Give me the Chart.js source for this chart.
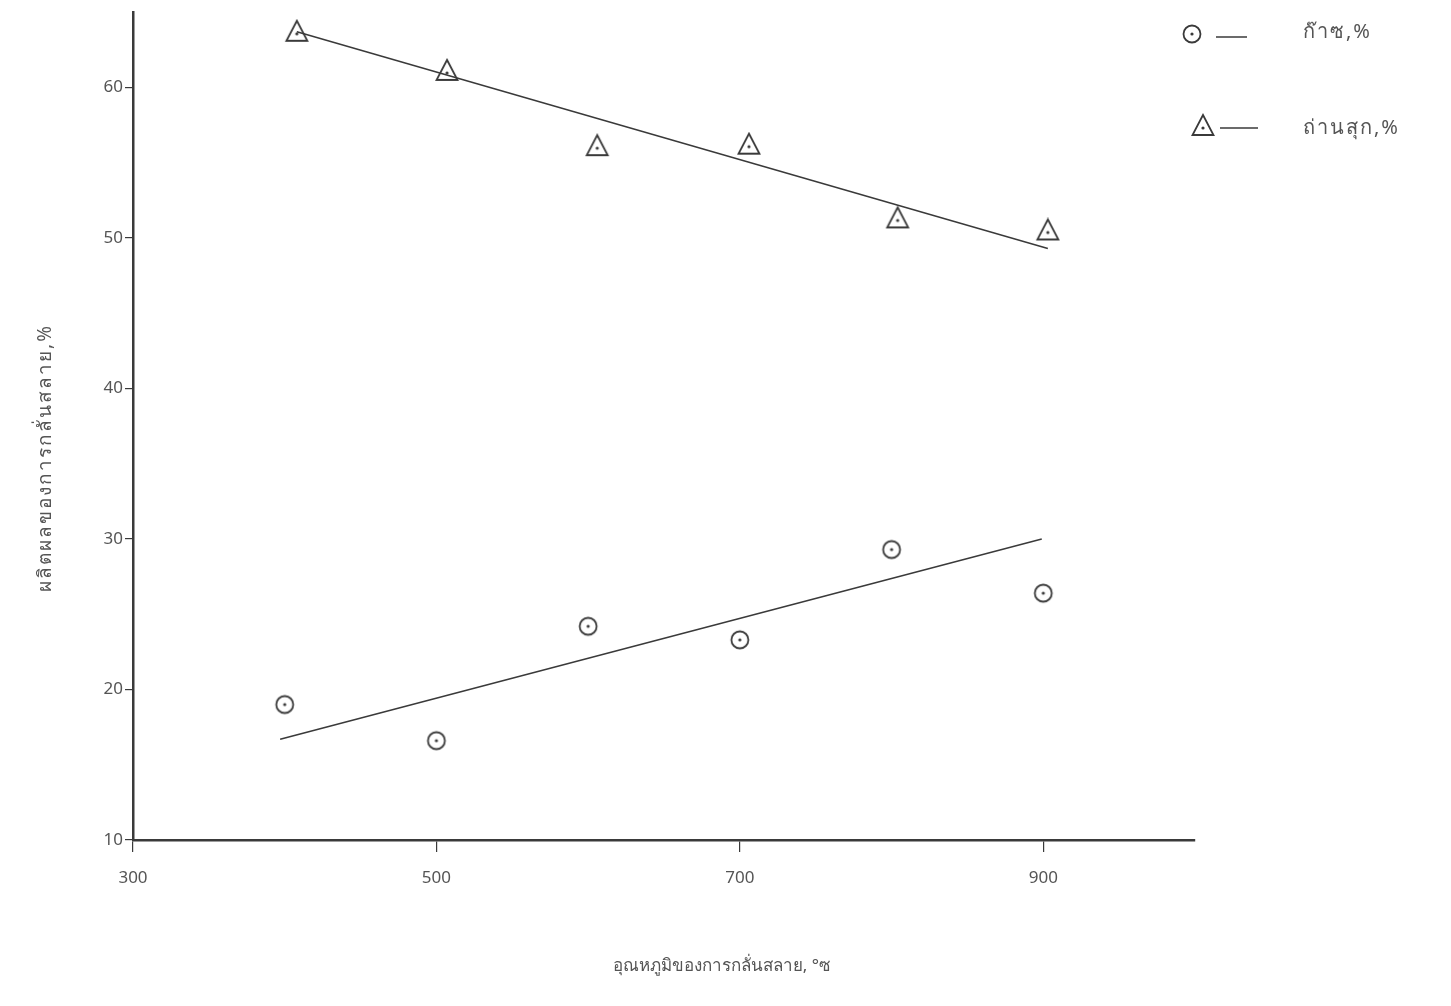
<!DOCTYPE html>
<html>
<head>
<meta charset="utf-8">
<script src="https://cdn.jsdelivr.net/npm/chart.js@4/dist/chart.umd.min.js"></script>
<style>
  html, body { margin: 0; padding: 0; background: #fff; }
  #wrap { width: 1451px; height: 1006px; position: relative; }
</style>
</head>
<body>
<div id="wrap"><canvas id="chart"></canvas></div>
<script>
// ข้อมูลที่อ่านจากกราฟ
const xTicks = [300, 500, 700, 900];
const yTicks = [10, 20, 30, 40, 50, 60];

const gasX = [400, 500, 600, 700, 800, 900];
const gasY = [19.0, 16.6, 24.2, 23.3, 29.3, 26.4];
const gasFitX = [397, 899];
const gasFitY = [16.7, 30.0];

const charX = [408, 507, 606, 706, 804, 903];
const charY = [63.7, 61.1, 56.1, 56.2, 51.3, 50.5];
const charFitX = [408, 903];
const charFitY = [63.7, 49.3];

const legendLabels = ['ก๊าซ,%', 'ถ่านสุก,%'];
const xTitle = 'อุณหภูมิของการกลั่นสลาย, °ซ';
const yTitle = 'ผลิตผลของการกลั่นสลาย,%';

const INK = '#3a3a3a';
const TEXT = '#555';
const FONT = "'Noto Sans', 'DejaVu Sans', sans-serif";

const toPoints = (xs, ys) => xs.map((x, i) => ({ x, y: ys[i] }));

// สัญลักษณ์จุด: วงกลม/สามเหลี่ยม มีจุดกลาง
function makeMarker(kind) {
    const c = document.createElement('canvas');
    c.width = 26; c.height = 26;
    const g = c.getContext('2d');
    g.strokeStyle = INK;
    g.lineWidth = 1.8;
    g.beginPath();
    if (kind === 'circle') {
        g.arc(13, 13, 8.5, 0, Math.PI * 2);
    } else {
        g.moveTo(13, 2);
        g.lineTo(23.5, 22);
        g.lineTo(2.5, 22);
        g.closePath();
    }
    g.stroke();
    g.fillStyle = INK;
    g.beginPath();
    g.arc(13, kind === 'circle' ? 13 : 15, 1.6, 0, Math.PI * 2);
    g.fill();
    return c;
}
const circleMark = makeMarker('circle');
const triMark = makeMarker('triangle');

// คำอธิบายสัญลักษณ์และชื่อแกน
const decorations = {
    id: 'decorations',
    afterDraw(chart) {
        const ctx = chart.ctx;
        ctx.save();
        ctx.fillStyle = TEXT;
        ctx.strokeStyle = INK;
        ctx.lineWidth = 1.5;
        ctx.font = '20px ' + FONT;
        ctx.letterSpacing = '2px';
        ctx.textBaseline = 'middle';
        ctx.textAlign = 'left';

        ctx.drawImage(circleMark, 1179, 21);
        ctx.beginPath(); ctx.moveTo(1216, 37); ctx.lineTo(1247, 37); ctx.stroke();
        ctx.fillText(legendLabels[0], 1303, 32);

        ctx.drawImage(triMark, 1190, 113);
        ctx.beginPath(); ctx.moveTo(1220, 128); ctx.lineTo(1258, 128); ctx.stroke();
        ctx.fillText(legendLabels[1], 1303, 128);

        ctx.font = '17px ' + FONT;
        ctx.letterSpacing = '0px';
        ctx.textAlign = 'center';
        ctx.fillText(xTitle, 722, 966);

        ctx.translate(46, 458);
        ctx.rotate(-Math.PI / 2);
        ctx.font = '19px ' + FONT;
        ctx.letterSpacing = '2px';
        ctx.fillText(yTitle, 0, 0);
        ctx.restore();
    }
};

new Chart(document.getElementById('chart'), {
    type: 'scatter',
    data: {
        datasets: [
            {
                label: legendLabels[1],
                data: toPoints(charX, charY),
                pointStyle: triMark,
                showLine: false
            },
            {
                label: legendLabels[0],
                data: toPoints(gasX, gasY),
                pointStyle: circleMark,
                showLine: false
            },
            {
                data: toPoints(charFitX, charFitY),
                showLine: true,
                pointRadius: 0,
                borderColor: INK,
                borderWidth: 1.5
            },
            {
                data: toPoints(gasFitX, gasFitY),
                showLine: true,
                pointRadius: 0,
                borderColor: INK,
                borderWidth: 1.5
            }
        ]
    },
    options: {
        responsive: true,
        maintainAspectRatio: false,
        animation: false,
        layout: { padding: { left: 20, right: 256, top: 10, bottom: 0 } },
        plugins: {
            legend: { display: false },
            tooltip: { enabled: false }
        },
        scales: {
            x: {
                type: 'linear',
                min: 300,
                max: 1000,
                afterBuildTicks: s => { s.ticks = xTicks.map(v => ({ value: v })); },
                afterFit: s => { s.height = 166; },
                grid: { drawOnChartArea: false, drawTicks: true, tickLength: 12, color: INK, lineWidth: 1.2 },
                border: { display: true, color: INK, width: 2.5 },
                ticks: { color: TEXT, font: { family: FONT, size: 17 }, padding: 16, maxRotation: 0 }
            },
            y: {
                type: 'linear',
                min: 10,
                max: 65,
                afterBuildTicks: s => { s.ticks = yTicks.map(v => ({ value: v })); },
                afterFit: s => { s.width = 113; },
                grid: { drawOnChartArea: false, drawTicks: true, tickLength: 8, color: INK, lineWidth: 1.2 },
                border: { display: true, color: INK, width: 2.5 },
                ticks: { color: TEXT, font: { family: FONT, size: 17 }, padding: 2 }
            }
        }
    },
    plugins: [decorations]
});
</script>
</body>
</html>
